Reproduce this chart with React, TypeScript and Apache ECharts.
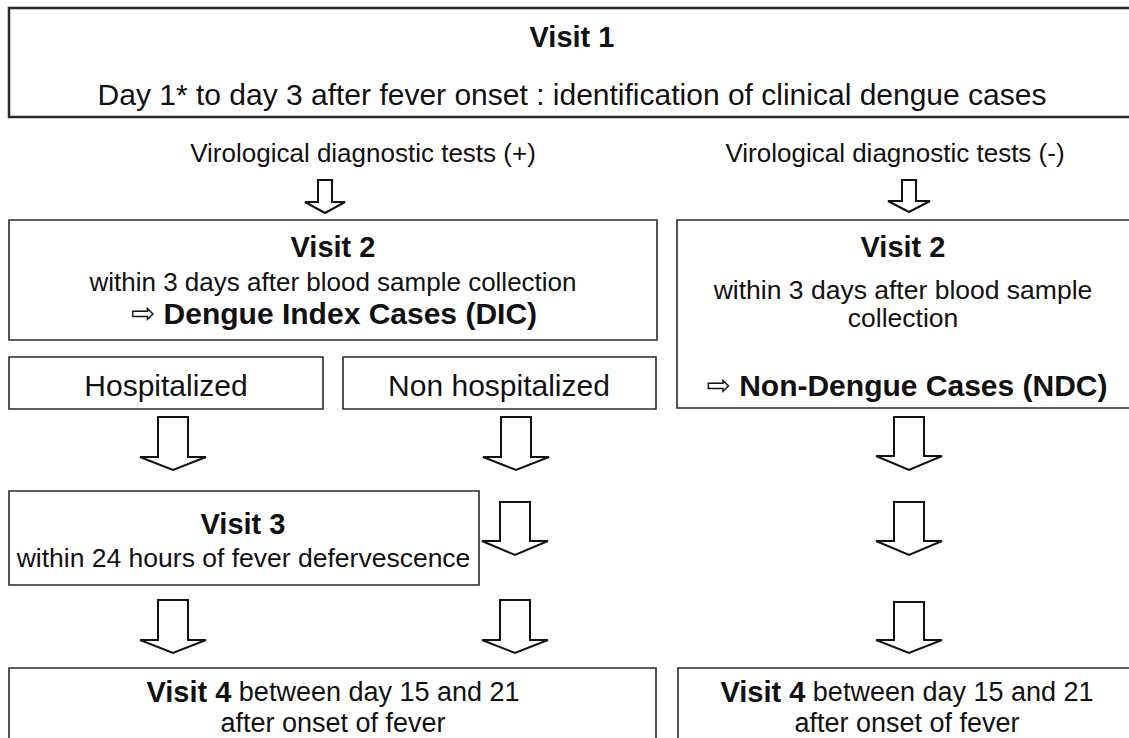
import React, { useEffect, useRef } from "react";
import * as echarts from "echarts";

// ---- Content (texts of the flowchart) ----
const visit1Title = "Visit 1";
const visit1Text = "Day 1* to day 3 after fever onset : identification of clinical dengue cases";
const branchLabels = ["Virological diagnostic tests (+)", "Virological diagnostic tests (-)"];
const visit2Title = "Visit 2";
const resultArrow = "⇨";
const visit2DicLines = ["within 3 days after blood sample collection", "Dengue Index Cases (DIC)"];
const visit2NdcLines = ["within 3 days after blood sample", "collection", "Non-Dengue Cases (NDC)"];
const hospLabels = ["Hospitalized", "Non hospitalized"];
const visit3Title = "Visit 3";
const visit3Text = "within 24 hours of fever defervescence";
const visit4Bold = "Visit 4";
const visit4Lines = [" between day 15 and 21", "after onset of fever"];

// ---- Layout ----
const FONT = "'Liberation Sans', Arial, Helvetica, sans-serif";
const STROKE = "#2a2a2a";

type Box = { x: number; y: number; w: number; h: number; lw: number };
const boxes: Box[] = [
  { x: 9, y: 8, w: 1135, h: 109, lw: 2.5 },
  { x: 9, y: 220, w: 648, h: 120, lw: 1.6 },
  { x: 9, y: 357, w: 314, h: 52, lw: 1.6 },
  { x: 343, y: 357, w: 313, h: 52, lw: 1.6 },
  { x: 677, y: 220, w: 470, h: 188, lw: 1.6 },
  { x: 9, y: 491, w: 470, h: 94, lw: 1.6 },
  { x: 9, y: 668, w: 647, h: 100, lw: 1.6 },
  { x: 678, y: 668, w: 470, h: 100, lw: 1.6 },
];

type Arrow = { cx: number; top: number; sh: number; tip: number; sw: number; hw: number };
const arrows: Arrow[] = [
  { cx: 325, top: 180, sh: 202, tip: 213, sw: 7, hw: 20 },
  { cx: 909, top: 180, sh: 201, tip: 212, sw: 7, hw: 21 },
  { cx: 173, top: 417, sh: 457, tip: 470, sw: 15, hw: 33 },
  { cx: 516, top: 417, sh: 457, tip: 470, sw: 15, hw: 33 },
  { cx: 909, top: 417, sh: 456, tip: 470, sw: 15, hw: 33 },
  { cx: 515, top: 502, sh: 541, tip: 555, sw: 15, hw: 33 },
  { cx: 909, top: 502, sh: 541, tip: 555, sw: 15, hw: 33 },
  { cx: 173, top: 600, sh: 640, tip: 653, sw: 15, hw: 33 },
  { cx: 515, top: 600, sh: 640, tip: 653, sw: 15, hw: 33 },
  { cx: 909, top: 602, sh: 640, tip: 653, sw: 15, hw: 33 },
];

function txt(text: string, x: number, y: number, size: number, bold = false): any {
  return {
    type: "text",
    x,
    y,
    silent: true,
    style: {
      text,
      fill: "#111",
      font: `${bold ? "bold " : ""}${size}px ${FONT}`,
      align: "center",
      verticalAlign: "middle",
    },
  };
}

function resultTxt(label: string, x: number, y: number): any {
  return {
    type: "text",
    x,
    y,
    silent: true,
    style: {
      text: `{a|${resultArrow}}{b| ${label}}`,
      fill: "#111",
      align: "center",
      verticalAlign: "middle",
      rich: {
        a: { font: `29px 'DejaVu Sans', sans-serif`, fill: "#111", lineHeight: 34 },
        b: { font: `bold 30px ${FONT}`, fill: "#111", lineHeight: 34 },
      },
    },
  };
}

function richTxt(x: number, y: number): any {
  return {
    type: "text",
    x,
    y,
    silent: true,
    style: {
      text: `{b|${visit4Bold}}{n|${visit4Lines[0]}}\n{n|${visit4Lines[1]}}`,
      fill: "#111",
      align: "center",
      verticalAlign: "middle",
      lineHeight: 31,
      rich: {
        b: { font: `bold 29px ${FONT}`, fill: "#111", lineHeight: 31 },
        n: { font: `27px ${FONT}`, fill: "#111", lineHeight: 31 },
      },
    },
  };
}

export default function App() {
  const ref = useRef<HTMLDivElement>(null);
  useEffect(() => {
    document.body.style.margin = "0";
    if (!ref.current) return;
    const chart = echarts.init(ref.current, undefined, { renderer: "svg" });
    const elements: any[] = [];
    boxes.forEach((b) =>
      elements.push({
        type: "rect",
        shape: { x: b.x, y: b.y, width: b.w, height: b.h },
        style: { fill: "#fff", stroke: STROKE, lineWidth: b.lw },
        silent: true,
      })
    );
    arrows.forEach((a) =>
      elements.push({
        type: "polygon",
        shape: {
          points: [
            [a.cx - a.sw, a.top],
            [a.cx + a.sw, a.top],
            [a.cx + a.sw, a.sh],
            [a.cx + a.hw, a.sh],
            [a.cx, a.tip],
            [a.cx - a.hw, a.sh],
            [a.cx - a.sw, a.sh],
          ],
        },
        style: { fill: "#fff", stroke: "#111", lineWidth: 2, lineJoin: "miter" },
        silent: true,
      })
    );
    elements.push(txt(visit1Title, 572, 37, 29, true));
    elements.push(txt(visit1Text, 572, 94, 30));
    elements.push(txt(branchLabels[0], 363, 153, 26));
    elements.push(txt(branchLabels[1], 895, 153, 26));
    elements.push(txt(visit2Title, 333, 247, 29, true));
    elements.push(txt(visit2DicLines[0], 333, 282, 26));
    elements.push(resultTxt(visit2DicLines[1], 334, 313));
    elements.push(txt(hospLabels[0], 166, 385, 30));
    elements.push(txt(hospLabels[1], 499, 385, 30));
    elements.push(txt(visit2Title, 903, 247, 29, true));
    elements.push(txt(visit2NdcLines[0], 903, 290, 26.5));
    elements.push(txt(visit2NdcLines[1], 903, 318, 26.5));
    elements.push(resultTxt(visit2NdcLines[2], 907, 385));
    elements.push(txt(visit3Title, 243, 524, 29, true));
    elements.push(txt(visit3Text, 243.5, 558, 26.5));
    elements.push(richTxt(333, 707));
    elements.push(richTxt(907, 707));

    chart.setOption({
      animation: false,
      backgroundColor: "#fff",
      graphic: { elements },
    });
    return () => chart.dispose();
  }, []);
  return <div ref={ref} style={{ width: 1129, height: 738 }} />;
}
